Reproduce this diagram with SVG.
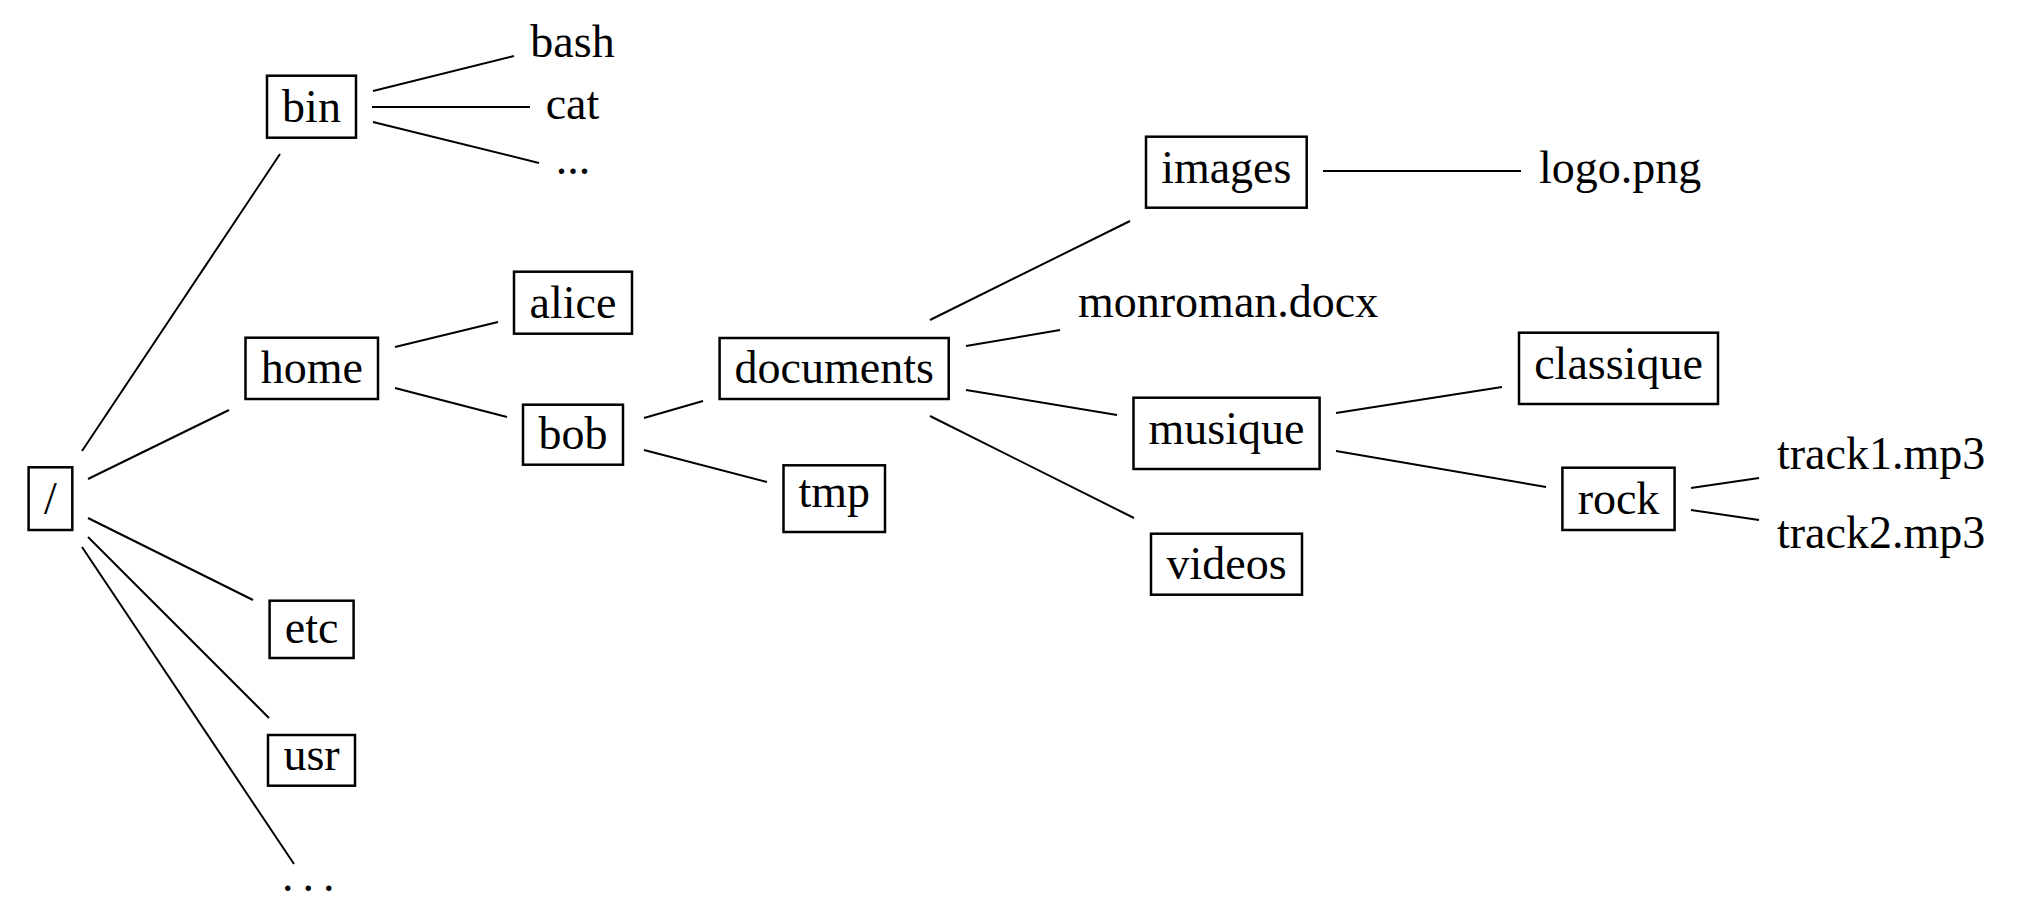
<svg xmlns="http://www.w3.org/2000/svg" width="2024" height="918" viewBox="0 0 2024 918">
<style>
text{font-family:"Liberation Serif","Times New Roman",serif;font-size:46px;fill:#000}
.c{text-anchor:middle}
.box{fill:none;stroke:#000;stroke-width:2.5}
#connectors line{stroke:#000;stroke-width:2}
</style>
<rect width="2024" height="918" fill="#fff"/>
<g id="connectors">
<line x1="82" y1="451" x2="280" y2="154"/>
<line x1="88" y1="479" x2="229" y2="410"/>
<line x1="88" y1="518" x2="253" y2="600"/>
<line x1="88" y1="537" x2="269" y2="718"/>
<line x1="82" y1="547" x2="294" y2="864"/>
<line x1="373" y1="91" x2="514" y2="56"/>
<line x1="372" y1="107" x2="530" y2="107"/>
<line x1="373" y1="122" x2="539" y2="163"/>
<line x1="395" y1="347" x2="498" y2="322"/>
<line x1="395" y1="388" x2="507" y2="417"/>
<line x1="644" y1="418" x2="703" y2="401"/>
<line x1="644" y1="450" x2="767" y2="482"/>
<line x1="930" y1="320" x2="1130" y2="221"/>
<line x1="966" y1="346" x2="1060" y2="330"/>
<line x1="966" y1="390" x2="1117" y2="415"/>
<line x1="930" y1="416" x2="1134" y2="518"/>
<line x1="1323" y1="171" x2="1521" y2="171"/>
<line x1="1336" y1="413" x2="1502" y2="387"/>
<line x1="1336" y1="451" x2="1546" y2="487"/>
<line x1="1691" y1="488" x2="1759" y2="478"/>
<line x1="1691" y1="510" x2="1759" y2="520"/>
</g>
<g id="root"><rect class="box" x="28.6" y="467.3" width="43.7" height="62.7"/><text class="c" x="50.5" y="514">/</text></g>
<g id="bin"><rect class="box" x="267" y="75.7" width="89" height="62"/><text class="c" x="311.5" y="122">bin</text></g>
<g id="bash"><text class="c" x="572.5" y="57">bash</text></g>
<g id="cat"><text class="c" x="572.5" y="119">cat</text></g>
<g id="bin-more"><text class="c" x="573" y="174">...</text></g>
<g id="home"><rect class="box" x="245.5" y="337.7" width="132.5" height="61.3"/><text class="c" x="311.8" y="383">home</text></g>
<g id="alice"><rect class="box" x="514" y="271.7" width="118" height="62"/><text class="c" x="573" y="318">alice</text></g>
<g id="bob"><rect class="box" x="523" y="404.7" width="100" height="60"/><text class="c" x="573" y="448.5">bob</text></g>
<g id="etc"><rect class="box" x="269.6" y="600.7" width="84" height="57.3"/><text class="c" x="311.6" y="642.5">etc</text></g>
<g id="usr"><rect class="box" x="268" y="735" width="87" height="50.7"/><text class="c" x="311.5" y="770">usr</text></g>
<g id="root-more"><text x="282" y="891" letter-spacing="9">...</text></g>
<g id="documents"><rect class="box" x="719.6" y="338" width="229.1" height="61"/><text class="c" x="834.2" y="383">documents</text></g>
<g id="tmp"><rect class="box" x="783.5" y="465.3" width="101.5" height="66.7"/><text class="c" x="834.2" y="507">tmp</text></g>
<g id="images"><rect class="box" x="1146" y="136.7" width="160.7" height="71"/><text class="c" x="1226.3" y="182.7">images</text></g>
<g id="monroman"><text x="1078" y="317.3">monroman.docx</text></g>
<g id="musique"><rect class="box" x="1133.5" y="397.7" width="186.1" height="71.3"/><text class="c" x="1226.5" y="443.7">musique</text></g>
<g id="videos"><rect class="box" x="1151" y="533.7" width="151" height="61"/><text class="c" x="1226.5" y="579">videos</text></g>
<g id="logo"><text x="1539" y="182.7">logo.png</text></g>
<g id="classique"><rect class="box" x="1519" y="332.7" width="199" height="71.3"/><text class="c" x="1618.5" y="378.7">classique</text></g>
<g id="rock"><rect class="box" x="1562.4" y="467.7" width="112.2" height="62.3"/><text class="c" x="1618.5" y="513.7">rock</text></g>
<g id="track1"><text x="1777" y="469.3">track1.mp3</text></g>
<g id="track2"><text x="1777" y="548.3">track2.mp3</text></g>
</svg>
